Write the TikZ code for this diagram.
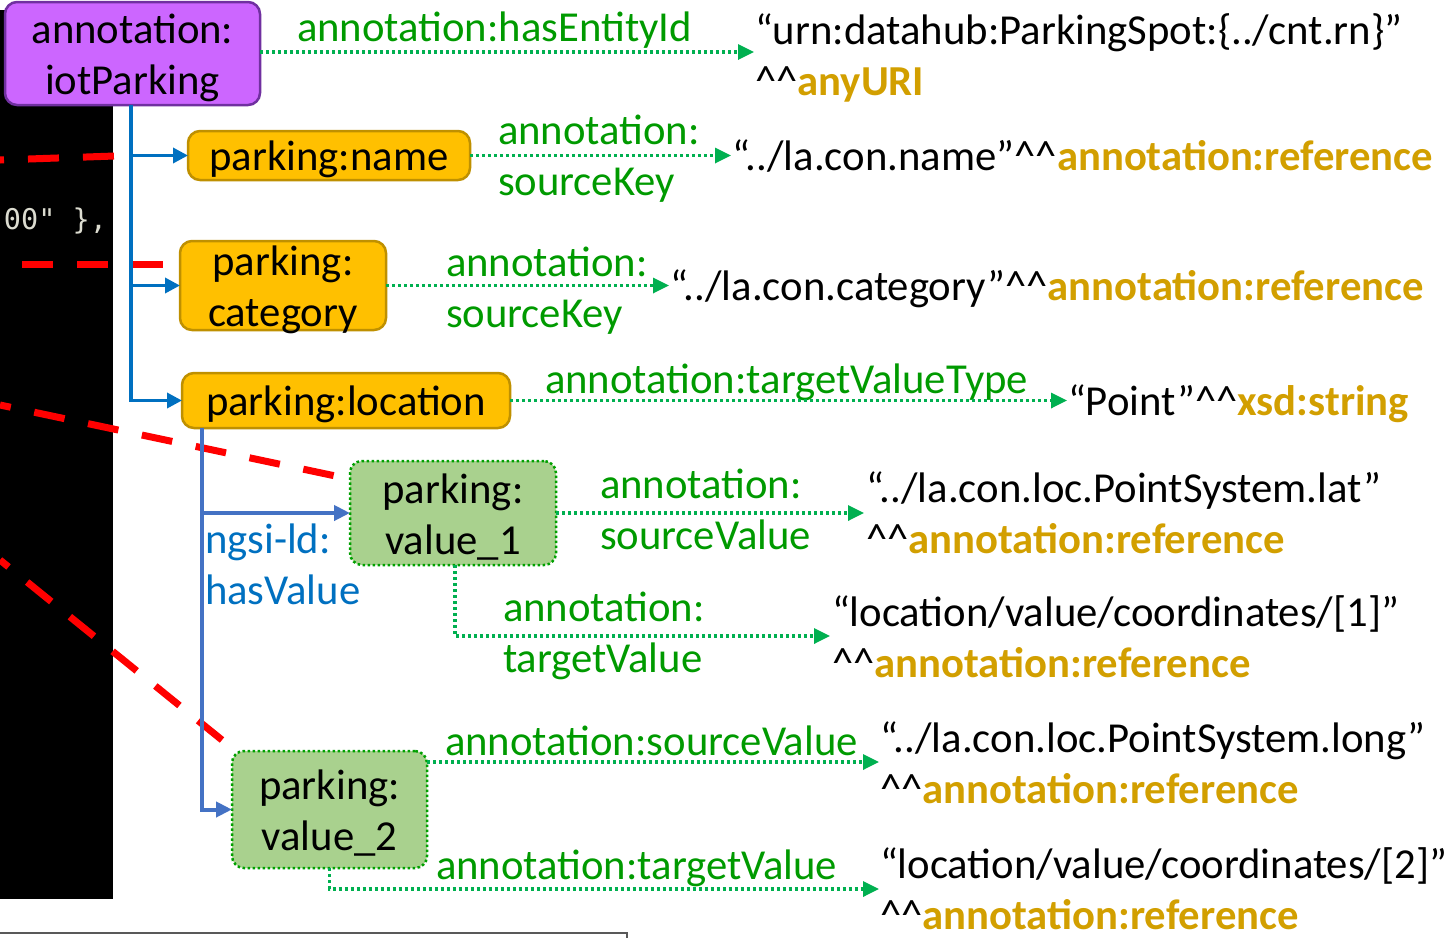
\documentclass[tikz,border=0pt]{standalone}
\usepackage{fontspec}
\setmainfont{Carlito}
\newfontfamily\codefont{DejaVu Sans Mono}
\usetikzlibrary{arrows.meta}

\definecolor{purplefill}{HTML}{CC66FF}
\definecolor{purpleline}{HTML}{7030A0}
\definecolor{goldfill}{HTML}{FFC000}
\definecolor{goldline}{HTML}{BF9000}
\definecolor{greenfill}{HTML}{A9D18E}
\definecolor{greenline}{HTML}{00A000}
\definecolor{arrowgreen}{HTML}{00B050}
\definecolor{labelgreen}{HTML}{009A00}
\definecolor{refgold}{HTML}{D29F00}
\definecolor{treeblue}{HTML}{0070C0}
\definecolor{valblue}{HTML}{4472C4}
\definecolor{codegray}{HTML}{DCDCD0}
\definecolor{framegray}{HTML}{595959}

% two stacked lines whose baseline is the baseline of the first line
\newcommand{\twolines}[2]{\vtop{\hbox{#1}\hbox{#2}}}
\newcommand{\carets}{\textasciicircum\textasciicircum}
\newcommand{\refterm}[1]{{\bfseries\color{refgold}#1}}

\begin{document}
\begin{tikzpicture}[x=1pt,y=-1pt,
  every node/.style={inner sep=0pt, outer sep=0pt,
    font=\fontsize{42.7}{51}\selectfont},
  box/.style={rounded corners=12pt, line width=2.5pt},
  boxtext/.style={align=center, yshift=-4pt},
  rootbox/.style={box, fill=purplefill, draw=purpleline},
  propbox/.style={box, fill=goldfill, draw=goldline},
  valbox/.style={box, fill=greenfill, draw=greenline,
    dash pattern=on 2.5pt off 2.5pt},
  glabel/.style={anchor=base west, text=labelgreen},
  literal/.style={anchor=base west, text=black},
  garrow/.style={draw=arrowgreen, line width=3.3pt,
    dash pattern=on 3pt off 3pt,
    -{Triangle[length=16pt,width=15pt,fill=arrowgreen]}},
  tarrow/.style={draw=treeblue, line width=3.5pt,
    -{Triangle[length=15pt,width=15pt]}},
  varrow/.style={draw=valblue, line width=4pt,
    -{Triangle[length=16pt,width=15pt]}},
  redtrace/.style={draw=red, line width=7pt,
    dash pattern=on 31pt off 24pt}
]
\useasboundingbox (0,0) rectangle (1447,937);

% code editor panel on the left
\fill[black] (0,10) rectangle (113,899);
\node[anchor=base west, text=codegray,
  font=\codefont\fontsize{28.5}{34}\selectfont] (code) at (4,229) {00" \},};

% bottom frame edge
\draw[framegray, line width=2pt] (0,933) -- (627,933) -- (627,940);

% red traces from the code panel
\draw[redtrace, dash phase=27pt] (0,160) -- (115,156);
\draw[redtrace, dash phase=33pt] (0,264) -- (166,264);
\draw[redtrace, dash phase=20pt] (0,405) -- (345,478);
\draw[redtrace, dash phase=20pt] (0,560) -- (222,740);

% nodes
\node[rootbox, minimum width=255pt, minimum height=103pt,
  label={[boxtext]center:{annotation:\\iotParking}}] (root)
  at (132.5,53.5) {};
\node[propbox, minimum width=282pt, minimum height=49pt,
  label={[boxtext]center:{parking:name}}] (name)
  at (329,155.5) {};
\node[propbox, minimum width=206pt, minimum height=89pt,
  label={[boxtext]center:{parking:\\category}}] (cat)
  at (283,285.5) {};
\node[propbox, minimum width=328pt, minimum height=55pt,
  label={[boxtext]center:{parking:location}}] (loc)
  at (346,400.5) {};
\node[valbox, minimum width=206pt, minimum height=104pt,
  label={[boxtext]center:{parking:\\value\_1}}] (v1)
  at (453,513) {};
\node[valbox, minimum width=195pt, minimum height=117pt,
  label={[boxtext]center:{parking:\\value\_2}}] (v2)
  at (329.5,809.5) {};

% literal values
\node[literal] (urn) at (755,44)
  {\twolines{“urn:datahub:ParkingSpot:\{../cnt.rn\}”}{\carets\refterm{anyURI}}};
\node[literal] (nameref) at (732,170)
  {“../la.con.name”\carets\refterm{annotation:reference}};
\node[literal] (catref) at (670,300)
  {“../la.con.category”\carets\refterm{annotation:reference}};
\node[literal] (pointref) at (1068,415)
  {“Point”\carets\refterm{xsd:string}};
\node[literal] (latref) at (866,502)
  {\twolines{“../la.con.loc.PointSystem.lat”}{\carets\refterm{annotation:reference}}};
\node[literal] (coordA) at (832,626)
  {\twolines{“location/value/coordinates/[1]”}{\carets\refterm{annotation:reference}}};
\node[literal] (longref) at (880,752)
  {\twolines{“../la.con.loc.PointSystem.long”}{\carets\refterm{annotation:reference}}};
\node[literal] (coordB) at (880,878)
  {\twolines{“location/value/coordinates/[2]”}{\carets\refterm{annotation:reference}}};

% predicate labels
\node[glabel] (lEntity) at (297,41) {annotation:hasEntityId};
\node[glabel] (lNameKey) at (498,144) {\twolines{annotation:}{sourceKey}};
\node[glabel] (lCatKey) at (446,276) {\twolines{annotation:}{sourceKey}};
\node[glabel] (lType) at (545,393) {annotation:targetValueType};
\node[glabel] (lSrcA) at (600,498) {\twolines{annotation:}{sourceValue}};
\node[glabel] (lTgtA) at (503,621) {\twolines{annotation:}{targetValue}};
\node[glabel] (lSrcB) at (445,755) {annotation:sourceValue};
\node[glabel] (lTgtB) at (436,879) {annotation:targetValue};
\node[anchor=base west, text=treeblue] (lHas) at (205,553)
  {\twolines{ngsi-ld:}{hasValue}};

% end points of the annotation arrows
\coordinate (eUrn) at (754,52);
\coordinate (eName) at (731,155.5);
\coordinate (eCat) at (669,285.5);
\coordinate (ePoint) at (1067,400.5);
\coordinate (eLat) at (864,513);
\coordinate (eCoordA) at (830,636);
\coordinate (eLong) at (879,762);
\coordinate (eCoordB) at (879,889);

% annotation arrows
\draw[garrow] (root.east |- eUrn) -- (eUrn);
\draw[garrow] (name.east) -- (eName);
\draw[garrow] (cat.east) -- (eCat);
\draw[garrow] (loc.east) -- (ePoint);
\draw[garrow] (v1.east) -- (eLat);
\draw[garrow] ([xshift=2pt]v1.south) |- (eCoordA);
\draw[garrow] (v2.east |- eLong) -- (eLong);
\draw[garrow] (v2.south) |- (eCoordB);

% property tree
\draw[tarrow] ([xshift=-1.5pt]root.south) |- (name.west);
\draw[tarrow] ([xshift=-1.5pt]root.south) |- (cat.west);
\draw[tarrow] ([xshift=-1.5pt]root.south) |- (loc.west);

% value tree
\draw[varrow] ([xshift=20pt]loc.south west) |- (v1.west);
\draw[varrow] ([xshift=20pt]loc.south west) |- (v2.west);
\end{tikzpicture}
\end{document}
